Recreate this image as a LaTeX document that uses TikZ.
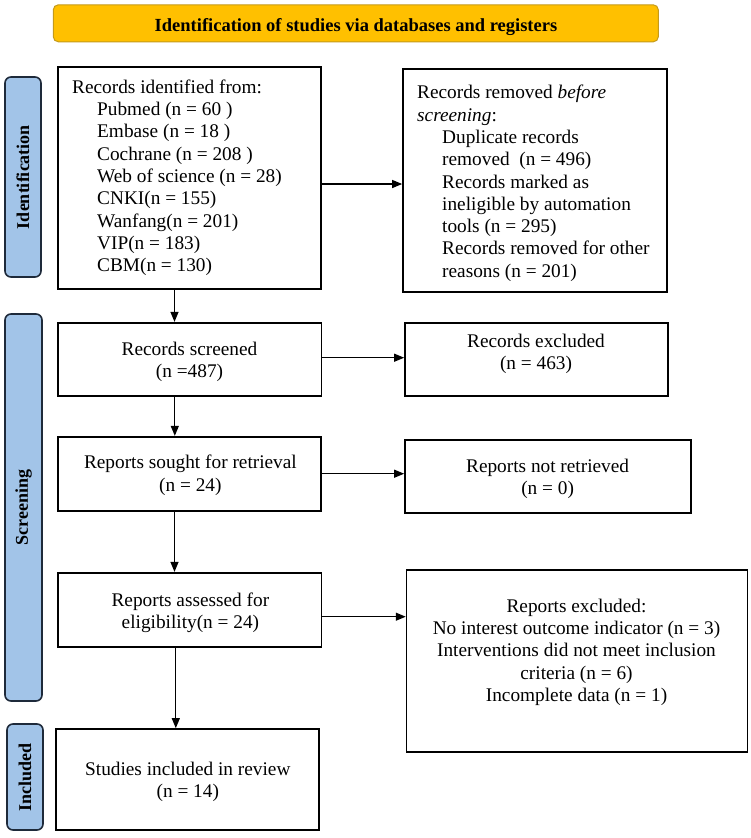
\documentclass[tikz,border=0pt]{standalone}
\usepackage{fontspec}
\setmainfont{Liberation Serif}
\usetikzlibrary{arrows.meta}
\definecolor{titlefill}{HTML}{FFC000}
\definecolor{titleline}{HTML}{C49A1A}
\definecolor{sidefill}{HTML}{A2C4E8}
\definecolor{sideline}{HTML}{1E2A3A}
\tikzset{
  x=1pt, y=-1pt,
  box/.style={draw=black, line width=1.7pt, inner sep=0pt, rectangle},
  txt/.style={inner sep=0pt, font=\fontsize{19.3}{22.3}\selectfont},
  sidebar/.style={draw=sideline, fill=sidefill, line width=1.6pt, rounded corners=6pt, inner sep=0pt, rotate=90, font=\fontsize{18}{20}\selectfont\bfseries},
  arr/.style={line width=1.2pt, -{Triangle[length=10pt,width=8pt]}},
}
\begin{document}
\begin{tikzpicture}
\useasboundingbox (0,0) rectangle (750,838);
% title
\node[draw=titleline, fill=titlefill, line width=1pt, rounded corners=5pt, minimum width=605pt, minimum height=37pt, inner sep=0pt] (title) at (355.8,23.3) {};
\node[inner sep=0pt, font=\fontsize{18.5}{20}\selectfont\bfseries] (titletxt) at (356,27) {Identification of studies via databases and registers};
% side bars
\node[sidebar, minimum width=200pt, minimum height=36pt] (sid) at (23,177) {Identification};
\node[sidebar, minimum width=387pt, minimum height=37pt] (sscr) at (23.5,507.5) {Screening};
\node[sidebar, minimum width=106pt, minimum height=36pt] (sinc) at (25,777) {Included};
% boxes
\node[box, minimum width=263pt, minimum height=222pt] (idb) at (189.5,178) {};
\node[box, minimum width=264pt, minimum height=223pt] (rem) at (535,180.5) {};
\node[box, minimum width=263.6pt, minimum height=73pt] (scr) at (189.8,359.2) {};
\node[box, minimum width=263pt, minimum height=73pt] (exc) at (536.5,359.5) {};
\node[box, minimum width=263pt, minimum height=74pt] (sou) at (189.5,473.7) {};
\node[box, minimum width=286pt, minimum height=73pt] (nrt) at (548,476.5) {};
\node[box, minimum width=263.6pt, minimum height=74pt] (ass) at (189.8,609.7) {};
\node[box, minimum width=341pt, minimum height=181.7pt] (rex) at (577.1,660.8) {};
\node[box, minimum width=263.2pt, minimum height=101pt] (inc) at (187.4,779.5) {};
% texts
\node[txt, anchor=north west, align=left] (idbt) at (72,79.5) {Records identified from:\\
\hspace*{25pt}Pubmed (n = 60 )\\
\hspace*{25pt}Embase (n = 18 )\\
\hspace*{25pt}Cochrane (n = 208 )\\
\hspace*{25pt}Web of science (n = 28)\\
\hspace*{25pt}CNKI(n = 155)\\
\hspace*{25pt}Wanfang(n = 201)\\
\hspace*{25pt}VIP(n = 183)\\
\hspace*{25pt}CBM(n = 130)};
\node[txt, anchor=north west, align=left] (remt) at (417,85.1) {Records removed \textit{before}\\
\textit{screening}:\\
\hspace*{25pt}Duplicate records\\
\hspace*{25pt}removed\ \ (n = 496)\\
\hspace*{25pt}Records marked as\\
\hspace*{25pt}ineligible by automation\\
\hspace*{25pt}tools (n = 295)\\
\hspace*{25pt}Records removed for other\\
\hspace*{25pt}reasons (n = 201)};
\node[txt, anchor=north, align=center] (scrt) at (189.5,341.8) {Records screened\\(n =487)};
\node[txt, anchor=north, align=center] (exct) at (536,333.5) {Records excluded\\(n = 463)};
\node[txt, anchor=north, align=center] (sout) at (190.4,455.1) {Reports sought for retrieval\\(n = 24)};
\node[txt, anchor=north, align=center] (nrtt) at (547.6,458.5) {Reports not retrieved\\(n = 0)};
\node[txt, anchor=north, align=center] (asst) at (190.4,592.8) {Reports assessed for\\eligibility(n = 24)};
\node[txt, anchor=north, align=center] (rext) at (576.5,598.5) {Reports excluded:\\No interest outcome indicator (n = 3)\\Interventions did not meet inclusion\\criteria (n = 6)\\Incomplete data (n = 1)};
\node[txt, anchor=north, align=center] (inct) at (187.8,761.8) {Studies included in review\\(n = 14)};
% connectors
\draw[arr] ([yshift=-6pt]idb.east) -- ([yshift=-6pt]idb.east -| rem.west);
\draw[arr] ([xshift=-15pt]idb.south) -- ([xshift=-15pt]idb.south |- scr.north);
\draw[arr] ([yshift=1.5pt]scr.east) -- ([yshift=1.5pt]scr.east -| exc.west);
\draw[arr] ([xshift=-15pt]scr.south) -- ([xshift=-15pt]scr.south |- sou.north);
\draw[arr] (sou.east) -- (sou.east -| nrt.west);
\draw[arr] ([xshift=-15pt]sou.south) -- ([xshift=-15pt]sou.south |- ass.north);
\draw[arr] ([yshift=-7pt]ass.east) -- ([yshift=-7pt]ass.east -| rex.west);
\draw[arr] ([xshift=-14pt]ass.south) -- ([xshift=-14pt]ass.south |- inc.north);
\end{tikzpicture}
\end{document}
